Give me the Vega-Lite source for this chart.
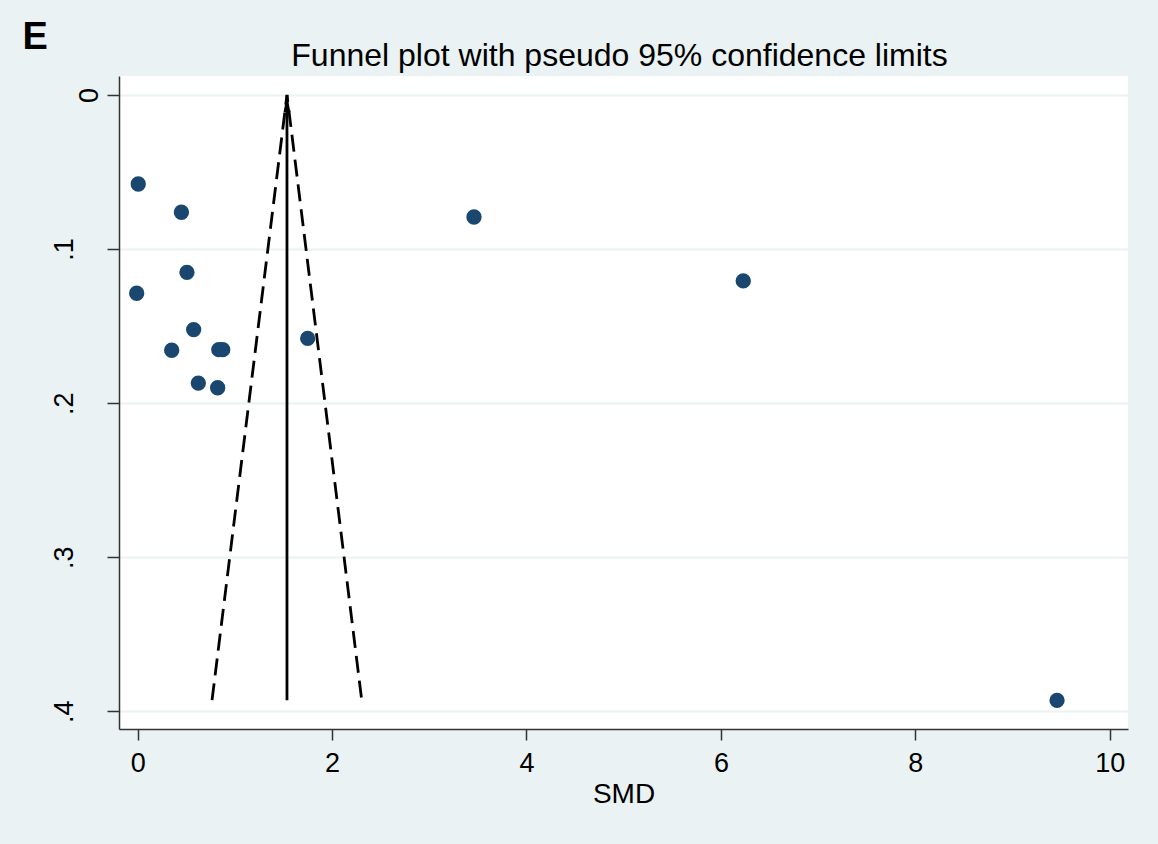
{
  "$schema": "https://vega.github.io/schema/vega-lite/v6.json",
  "width": 1009,
  "height": 653,
  "autosize": {"type": "none"},
  "padding": {"left": 119, "top": 76, "right": 30, "bottom": 115},
  "background": "#EAF2F3",
  "config": {
    "view": {"stroke": null, "fill": "white"},
    "font": "Liberation Sans"
  },
  "title": {
    "text": "Funnel plot with pseudo 95% confidence limits",
    "font": "Liberation Sans",
    "fontSize": 32,
    "fontWeight": "normal",
    "color": "black",
    "anchor": "middle",
    "baseline": "alphabetic",
    "offset": 11,
    "dy": 91,
    "dx": -4
  },
  "datasets": {
    "studies": [
      {"smd": 0.006, "se": 0.0578},
      {"smd": 0.45, "se": 0.0761},
      {"smd": 3.46, "se": 0.0792},
      {"smd": 0.507, "se": 0.1151},
      {"smd": -0.01, "se": 0.1287},
      {"smd": 6.23, "se": 0.1207},
      {"smd": 0.576, "se": 0.1523},
      {"smd": 0.35, "se": 0.1657},
      {"smd": 0.835, "se": 0.1653},
      {"smd": 0.875, "se": 0.1653},
      {"smd": 1.749, "se": 0.158},
      {"smd": 0.624, "se": 0.187},
      {"smd": 0.823, "se": 0.190},
      {"smd": 9.458, "se": 0.3929}
    ],
    "funnel": [
      {"order": 1, "smd": 0.765, "se": 0.3928},
      {"order": 2, "smd": 1.536, "se": 0},
      {"order": 3, "smd": 2.305, "se": 0.3928}
    ],
    "pooled": [
      {"smd": 1.536, "se_top": 0, "se_bottom": 0.3928}
    ]
  },
  "encoding": {
    "x": {
      "field": "smd",
      "type": "quantitative",
      "scale": {"domain": [-0.192, 10.188], "nice": false, "zero": false},
      "axis": {
        "values": [0, 2, 4, 6, 8, 10],
        "grid": false,
        "domainColor": "#333333",
        "domainWidth": 1.5,
        "tickColor": "#333333",
        "tickWidth": 1.5,
        "tickSize": 11,
        "labelFont": "Liberation Sans",
        "labelFontSize": 27,
        "labelColor": "black",
        "labelPadding": 10,
        "labelFlush": false,
        "labelOverlap": false,
        "title": "SMD",
        "titleFont": "Liberation Sans",
        "titleFontSize": 28,
        "titleFontWeight": "normal",
        "titleColor": "black",
        "titleBaseline": "top",
        "titleY": 51
      }
    },
    "y": {
      "field": "se",
      "type": "quantitative",
      "scale": {"domain": [-0.0123, 0.4115], "nice": false, "zero": false, "reverse": true},
      "axis": {
        "values": [0, 0.1, 0.2, 0.3, 0.4],
        "labelExpr": "datum.value == 0 ? '0' : '.' + round(datum.value * 10)",
        "grid": true,
        "gridColor": "#EAF2F3",
        "gridWidth": 2,
        "domainColor": "#333333",
        "domainWidth": 1.5,
        "tickColor": "#333333",
        "tickWidth": 1.5,
        "tickSize": 12,
        "labelAngle": 270,
        "labelFont": "Liberation Sans",
        "labelFontSize": 27,
        "labelColor": "black",
        "labelPadding": {"condition": {"test": "datum.value == 0", "value": 4}, "value": 29},
        "labelOverlap": false,
        "labelBound": false,
        "title": "E",
        "titleAngle": 0,
        "titleAlign": "left",
        "titleBaseline": "alphabetic",
        "titleX": -97,
        "titleY": -28,
        "titleFont": "Liberation Sans",
        "titleFontSize": 38,
        "titleFontWeight": "bold",
        "titleColor": "black"
      }
    }
  },
  "layer": [
    {
      "data": {"name": "funnel"},
      "mark": {"type": "line", "color": "black", "strokeWidth": 2.8, "strokeDash": [17, 8]},
      "encoding": {"order": {"field": "order", "type": "quantitative"}}
    },
    {
      "data": {"name": "pooled"},
      "mark": {"type": "rule", "color": "black", "strokeWidth": 2.8},
      "encoding": {
        "y": {"field": "se_top", "type": "quantitative"},
        "y2": {"field": "se_bottom"}
      }
    },
    {
      "data": {"name": "pooled"},
      "mark": {"type": "point", "shape": "M0,0L0.4,2L-0.4,2Z", "filled": true, "color": "black", "size": 300, "opacity": 1},
      "encoding": {
        "y": {"field": "se_top", "type": "quantitative"}
      }
    },
    {
      "data": {"name": "studies"},
      "mark": {"type": "circle", "color": "#1A476F", "size": 235, "opacity": 1}
    }
  ]
}
